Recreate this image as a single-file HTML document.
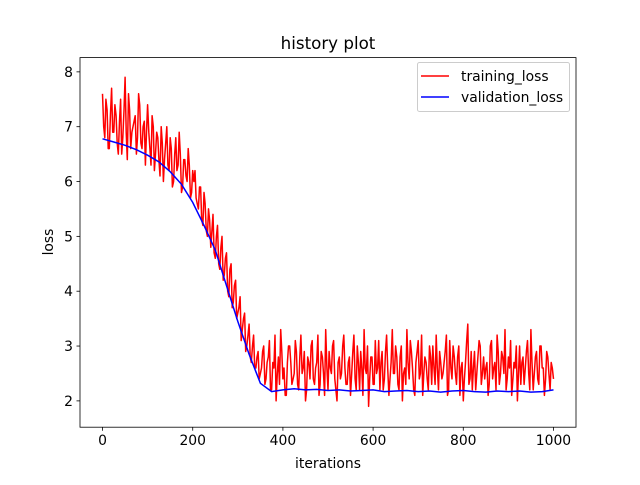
<!DOCTYPE html>
<html><head><meta charset="utf-8"><style>
body{margin:0;background:#fff}
svg text{font-family:"DejaVu Sans","Liberation Sans",sans-serif;fill:#000}
</style></head><body>
<svg id="chart" width="640" height="480" xmlns="http://www.w3.org/2000/svg">
<rect width="640" height="480" fill="#fff"/>
<text x="328" y="49" font-size="16.7" text-anchor="middle">history plot</text>
<g id="plot"></g>
<g id="axes"></g>
<text x="328" y="468" font-size="13.9" text-anchor="middle">iterations</text>
<text transform="translate(53,242) rotate(-90)" font-size="13.9" text-anchor="middle">loss</text>
<g>
<rect x="417.5" y="62.5" width="152" height="49" rx="2" fill="#fff" fill-opacity="0.8" stroke="#ccc"/>
<line x1="421" y1="76" x2="449" y2="76" stroke="red" stroke-width="1.5"/>
<text x="461" y="81" font-size="13.9">training_loss</text>
<line x1="421" y1="97" x2="449" y2="97" stroke="blue" stroke-width="1.5"/>
<text x="461" y="102" font-size="13.9">validation_loss</text>
</g>
</svg>
<script>
const xTicks=[0,200,400,600,800,1000];
const yTicks=[2,3,4,5,6,7,8];
const trainStep=5;
const trainLoss=[7.6,6.8,7.3,6.6,7.7,6.9,7.2,6.5,7.5,6.8,7.9,6.4,7.3,6.9,7.1,6.5,7.6,6.7,7.0,6.3,7.4,
6.6,7.2,6.2,6.9,6.4,7.0,6.0,6.7,6.3,6.8,5.9,6.5,6.2,6.9,5.8,6.4,6.1,6.6,5.7,6.2,
6.2,5.6,5.9,5.3,5.8,5.1,5.5,4.8,5.4,4.6,5.2,4.4,5.0,4.3,4.7,3.9,4.5,3.8,4.2,3.6,
3.9,3.3,3.6,3.0,3.4,2.7,3.2,2.6,2.9,2.5,
2.9,2.3,2.7,3.1,2.2,2.6,2.0,2.8,3.3,2.4,2.1,2.7,3.0,2.3,2.5,2.9,2.2,3.2,2.6,2.0,
2.8,2.4,3.1,2.3,2.7,2.1,2.9,2.5,3.3,2.2,2.6,3.0,2.4,2.0,2.8,2.5,3.2,2.3,2.7,2.1,
2.9,2.4,3.0,2.2,2.6,3.3,2.5,1.9,2.8,2.3,3.1,2.6,2.2,2.9,2.4,3.2,2.1,2.7,2.5,3.0,
2.3,2.8,2.0,2.6,3.3,2.4,2.9,2.2,2.7,3.1,2.5,2.1,2.8,2.4,3.0,2.3,2.6,3.2,2.2,2.7,
2.5,2.9,2.1,3.1,2.4,2.8,2.3,3.0,2.6,2.0,2.7,3.4,2.4,2.2,2.9,2.5,3.1,2.3,2.8,2.6,
2.1,3.0,2.4,2.7,3.2,2.3,2.9,2.5,2.2,2.8,3.1,2.4,2.6,2.0,3.0,2.7,2.3,2.9,2.5,3.3,
2.2,2.8,2.4,3.0,2.6,2.1,2.9,2.5,2.7,2.4];
const trainLossMid=[7.0,7.5,6.6,7.2,6.9,7.4,6.7,7.1,6.5,7.3,6.9,7.6,6.6,7.0,7.2,6.8,7.4,6.6,7.1,6.9,
6.9,6.3,7.0,6.5,6.8,6.1,6.7,6.4,7.0,6.2,6.6,6.0,6.8,6.3,6.5,5.9,6.4,6.0,6.3,5.8,
6.0,5.7,5.5,5.9,5.2,5.6,5.0,5.3,5.1,4.7,5.0,4.5,4.8,4.2,4.6,4.0,4.4,3.7,4.1,3.5,
3.7,3.1,3.5,2.9,3.2,2.8,3.0,2.6,2.8,2.4,
2.6,3.0,2.4,2.8,2.2,2.7,3.2,2.5,2.3,2.9,2.6,2.1,3.0,2.7,2.4,3.1,2.3,2.8,2.5,2.9,
2.2,2.7,3.0,2.4,2.6,3.2,2.3,2.8,2.1,2.6,2.9,2.5,3.1,2.2,2.7,2.4,3.0,2.6,2.3,2.8,
2.5,3.2,2.2,2.7,2.9,2.1,2.6,3.0,2.4,2.8,2.3,2.5,3.1,2.7,2.2,2.9,2.6,2.4,3.3,2.5,
2.8,2.2,3.0,2.5,2.3,2.7,3.1,2.6,2.1,2.9,2.4,3.2,2.5,2.7,2.2,2.8,3.0,2.3,2.6,2.9,
2.4,2.7,3.2,2.2,2.6,3.0,2.5,2.8,2.1,2.7,2.4,3.1,2.3,2.9,2.6,2.2,2.8,3.0,2.5,2.4,
2.7,2.3,3.1,2.6,2.2,2.9,2.5,2.8,3.3,2.4,2.6,2.1,2.7,3.0,2.5,2.3,2.8,2.6,3.1,2.2,
2.7,2.5,2.9,2.3,3.0,2.6,2.4,2.8,2.2,2.6];
const valStep=25;
const valLoss=[6.78,6.72,6.66,6.58,6.48,6.36,6.18,5.95,5.62,5.2,4.75,4.1,3.45,2.85,2.32,2.17,2.2,2.22,2.2,2.21,2.19,2.2,2.18,2.19,2.2,2.17,2.18,2.19,2.17,2.18,2.16,2.18,2.19,2.17,2.16,2.18,2.17,2.18,2.16,2.17,2.2];
const L=80,R=576,T=57.6,B=427.2,xmin=-50,xmax=1050,ymin=1.52,ymax=8.26;
const sx=v=>L+(v-xmin)/(xmax-xmin)*(R-L);
const sy=v=>B-(v-ymin)/(ymax-ymin)*(B-T);
const NS="http://www.w3.org/2000/svg";
const plot=document.getElementById('plot'),axes=document.getElementById('axes');
function mk(tag,attrs,parent){const e=document.createElementNS(NS,tag);for(const k in attrs)e.setAttribute(k,attrs[k]);parent.appendChild(e);return e;}
const tpts=[];
trainLoss.forEach((v,i)=>{tpts.push([i*trainStep,v]);if(i<trainLossMid.length)tpts.push([i*trainStep+trainStep/2,trainLossMid[i]]);});
const tp=tpts.map(p=>sx(p[0]).toFixed(1)+','+sy(p[1]).toFixed(1)).join(' ');
const tl=mk('polyline',{points:tp,fill:'none',stroke:'red','stroke-width':1.5,'stroke-linejoin':'round'},plot);


const vp=valLoss.map((v,i)=>sx(i*valStep).toFixed(1)+','+sy(v).toFixed(1)).join(' ');
const vl=mk('polyline',{points:vp,fill:'none',stroke:'blue','stroke-width':1.5},plot);


const fr=mk('rect',{x:L,y:T,width:R-L,height:B-T,fill:'none',stroke:'#000','stroke-width':0.8},axes);


xTicks.forEach(t=>{const x=sx(t);
const l=mk('line',{x1:x,y1:B,x2:x,y2:B+3.5,stroke:'#000','stroke-width':0.8},axes);


const tx=mk('text',{x:x,y:B+18,'font-size':13.9,'text-anchor':'middle'},axes);tx.textContent=t;

});
yTicks.forEach(t=>{const y=sy(t);
const l=mk('line',{x1:L-3.5,y1:y,x2:L,y2:y,stroke:'#000','stroke-width':0.8},axes);


const tx=mk('text',{x:L-7,y:y+5,'font-size':13.9,'text-anchor':'end'},axes);tx.textContent=t;

});
</script>
</body></html>
